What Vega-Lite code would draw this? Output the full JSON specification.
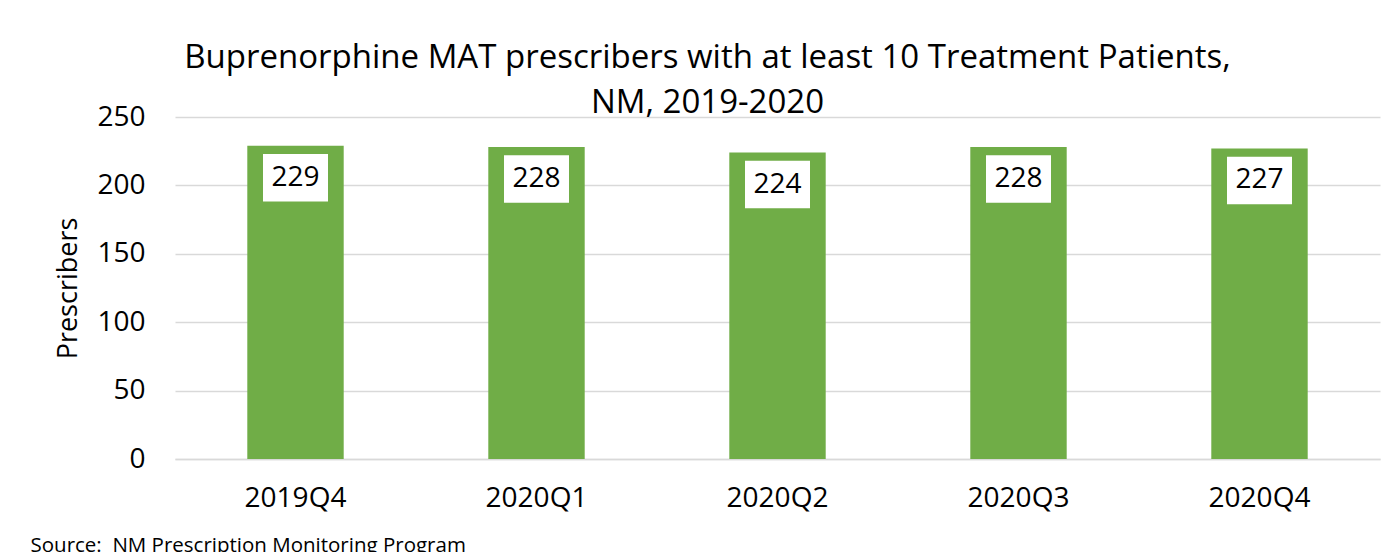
{
  "$schema": "https://vega.github.io/schema/vega-lite/v6.json",
  "autosize": {"type": "none"},
  "width": 1205,
  "height": 342,
  "padding": {"left": 175, "top": 117, "right": 20, "bottom": 93},
  "background": "white",
  "config": {
    "font": "Open Sans",
    "view": {"stroke": null},
    "axis": {"labelFont": "Open Sans", "titleFont": "Open Sans", "labelColor": "#000000", "titleColor": "#000000"}
  },
  "title": {
    "text": ["Buprenorphine MAT prescribers with at least 10 Treatment Patients,", "NM, 2019-2020"],
    "font": "Open Sans",
    "fontSize": 33,
    "fontWeight": "normal",
    "color": "#000000",
    "anchor": "middle",
    "frame": "group",
    "dx": -70,
    "lineHeight": 45,
    "baseline": "alphabetic",
    "offset": -43
  },
  "data": {
    "values": [
      {"quarter": "2019Q4", "prescribers": 229},
      {"quarter": "2020Q1", "prescribers": 228},
      {"quarter": "2020Q2", "prescribers": 224},
      {"quarter": "2020Q3", "prescribers": 228},
      {"quarter": "2020Q4", "prescribers": 227}
    ]
  },
  "encoding": {
    "x": {
      "field": "quarter",
      "type": "nominal",
      "sort": null,
      "scale": {"paddingInner": 0.6, "paddingOuter": 0.3},
      "axis": {
        "title": "Source:\u00a0 NM Prescription Monitoring Program",
        "titleFontSize": 20.5,
        "titleFontWeight": "normal",
        "titleAnchor": "start",
        "titleAlign": "left",
        "titleBaseline": "alphabetic",
        "titleX": -145,
        "titleY": 92,
        "labelAngle": 0,
        "labelFontSize": 28,
        "labelPadding": 25,
        "ticks": false,
        "domainColor": "#D9D9D9",
        "domainWidth": 1.5
      }
    },
    "y": {
      "field": "prescribers",
      "type": "quantitative",
      "scale": {"domain": [0, 250]},
      "axis": {
        "title": "Prescribers",
        "titleFontSize": 27,
        "titleFontWeight": "normal",
        "titlePadding": 14,
        "values": [0, 50, 100, 150, 200, 250],
        "labelFontSize": 28,
        "labelPadding": 30,
        "ticks": false,
        "domain": false,
        "gridColor": "#D9D9D9",
        "gridWidth": 1.5
      }
    }
  },
  "layer": [
    {"mark": {"type": "bar", "color": "#70AD47"}},
    {
      "mark": {
        "type": "point",
        "shape": "M-1,-0.73L1,-0.73L1,0.73L-1,0.73Z",
        "size": 4225,
        "filled": true,
        "color": "#FFFFFF",
        "opacity": 1,
        "strokeWidth": 0,
        "yOffset": 32
      }
    },
    {
      "mark": {
        "type": "text",
        "fontSize": 28,
        "font": "Open Sans",
        "color": "#000000",
        "baseline": "middle",
        "dy": 32
      },
      "encoding": {"text": {"field": "prescribers", "type": "quantitative"}}
    }
  ]
}
